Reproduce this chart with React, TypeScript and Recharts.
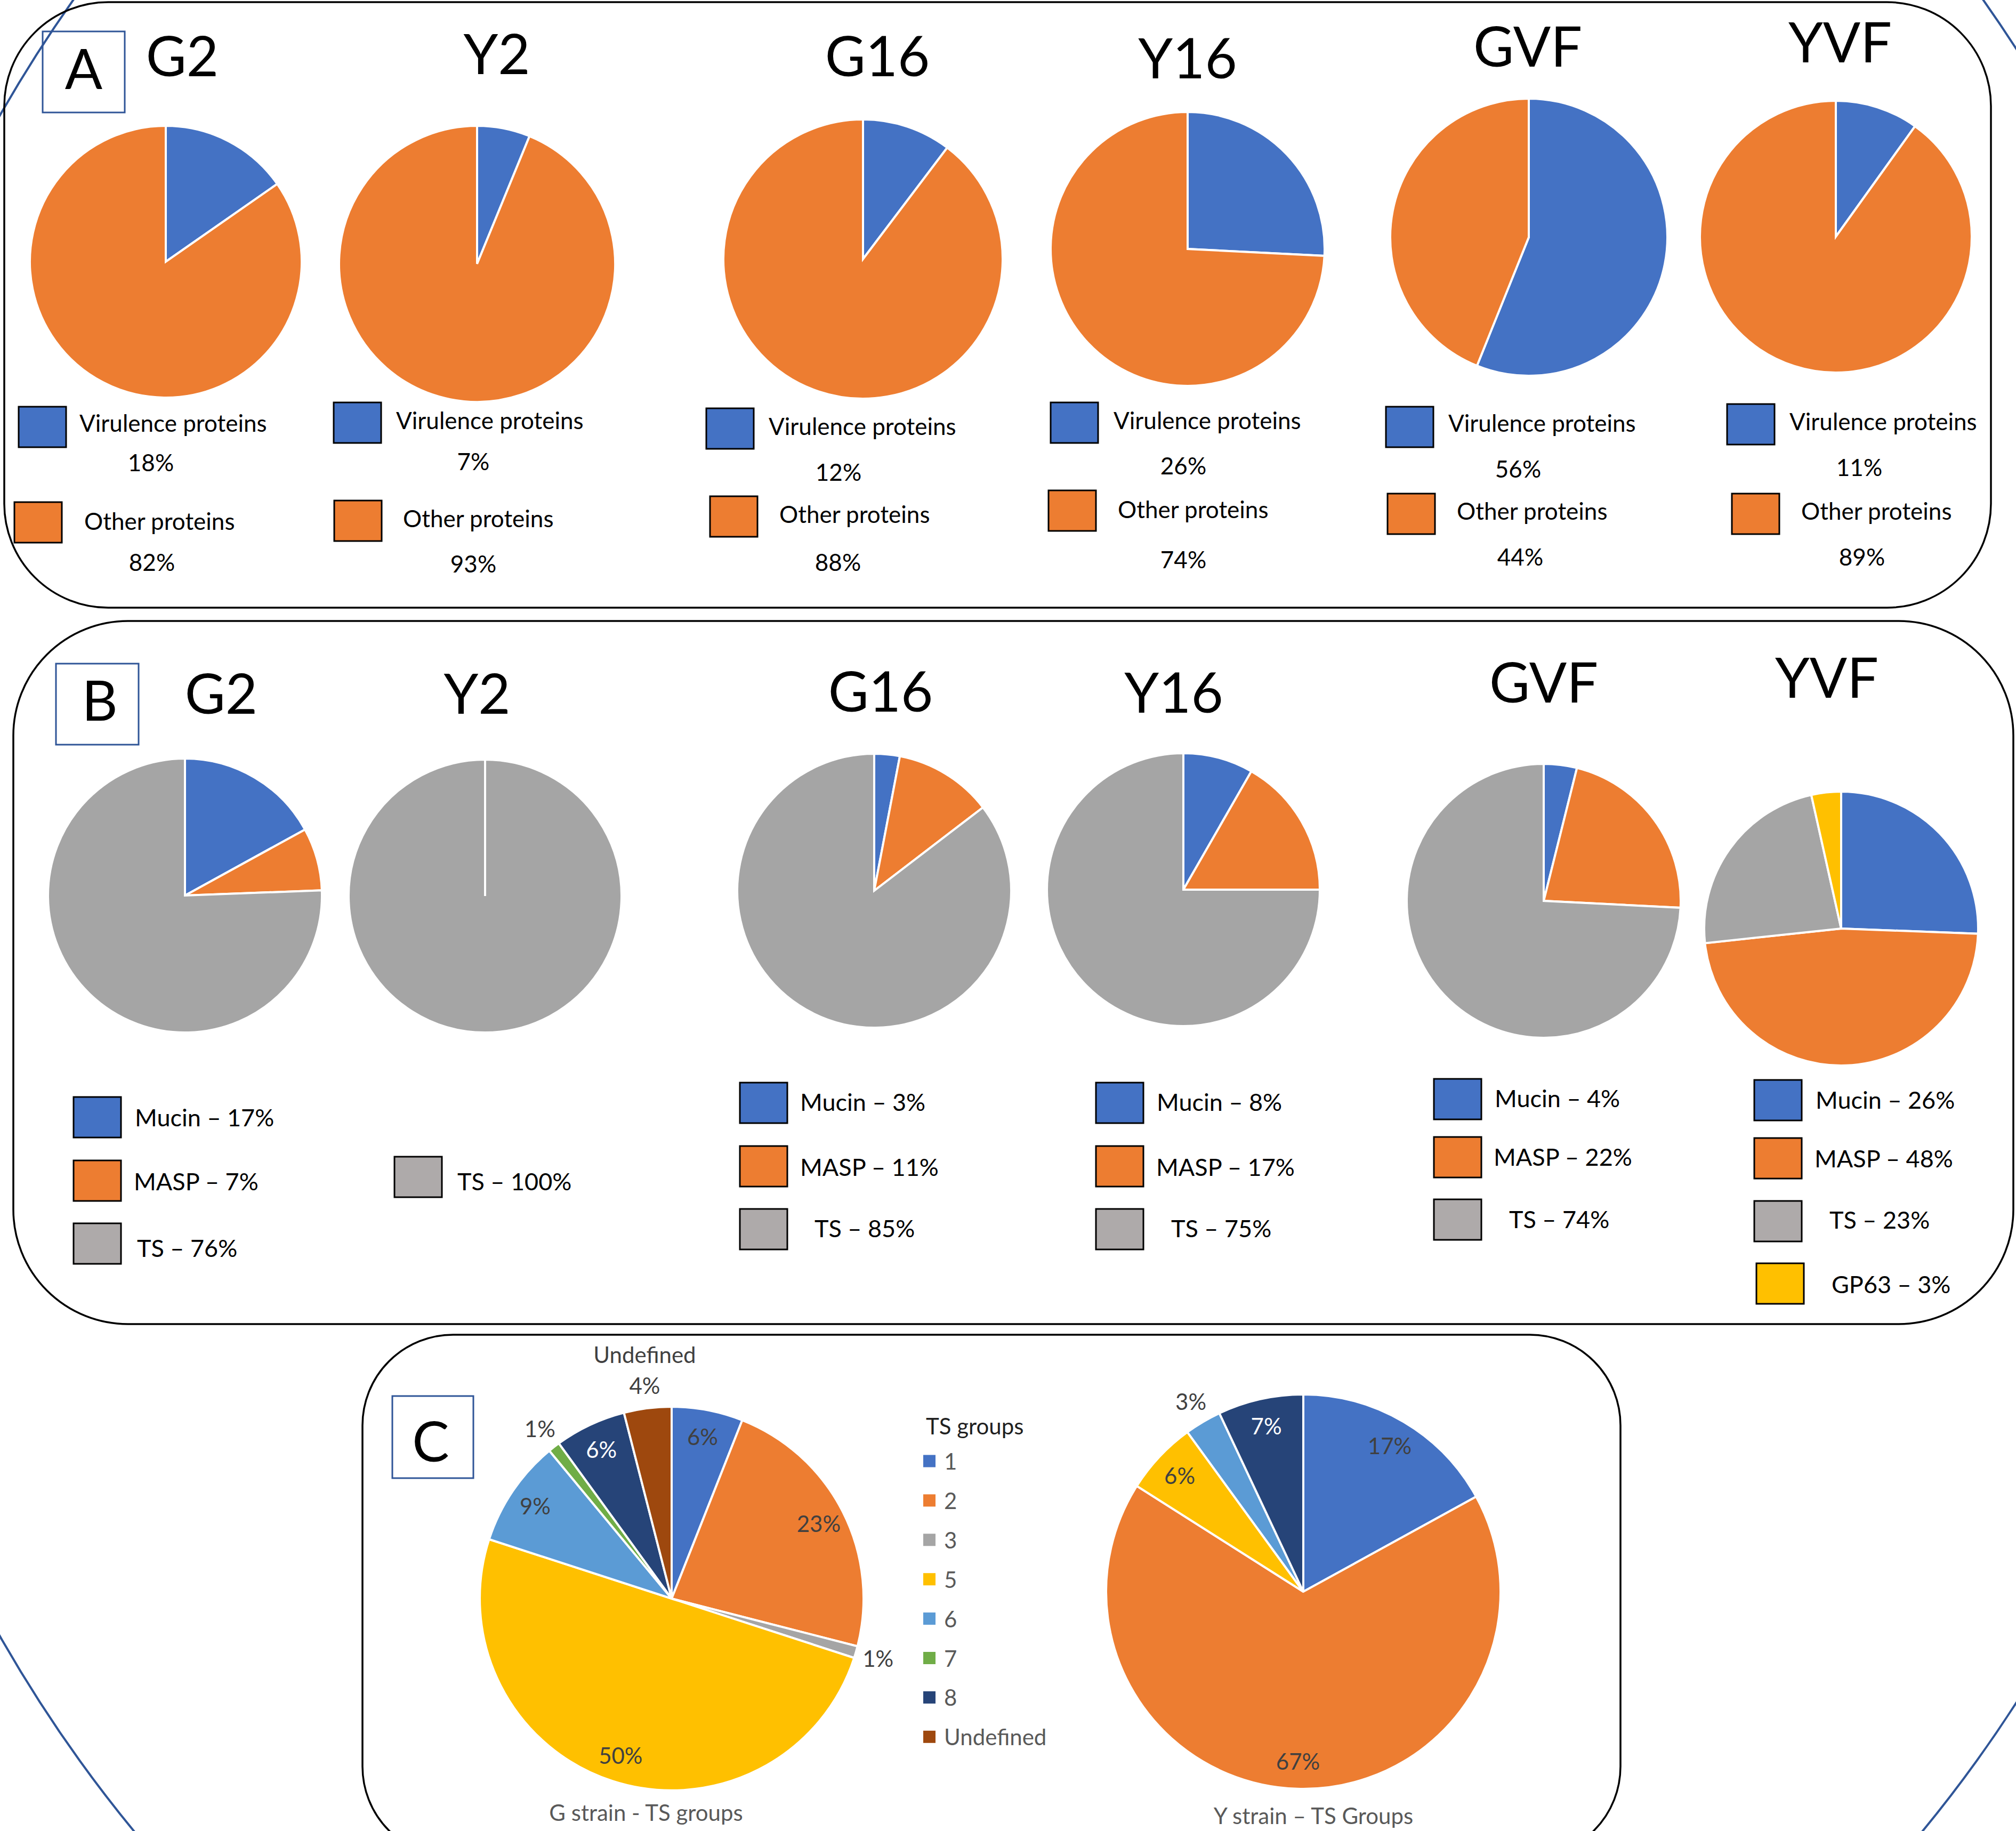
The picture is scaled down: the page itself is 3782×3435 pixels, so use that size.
import React from "react";
import { PieChart, Pie, Cell } from "recharts";

const W = 3782;
const H = 3435;
const FONT = "Lato, 'Open Sans', sans-serif";

const BLUE = "#4472C4";
const ORANGE = "#ED7D31";
const GRAY = "#A5A5A5";
const YELLOW = "#FFC000";
const LIGHT_BLUE = "#5B9BD5";
const GREEN = "#70AD47";
const DARK_BLUE = "#264478";
const BROWN = "#9E480E";
const SWATCH_GRAY = "#AEAAAA";
const FRAME_BLUE = "#2F5597";

// ---- data ----
const samples = ["G2", "Y2", "G16", "Y16", "GVF", "YVF"];

// A: virulence vs other proteins (slice sizes as drawn, legend text as printed)
const virulenceShare = [15.3, 6.2, 10.3, 25.8, 56.1, 9.9];
const otherShare = [84.7, 93.8, 89.7, 74.2, 43.9, 90.1];
const virulenceText = ["18%", "7%", "12%", "26%", "56%", "11%"];
const otherText = ["82%", "93%", "88%", "74%", "44%", "89%"];

// B: virulence protein families
const familyNames = ["Mucin", "MASP", "TS", "GP63"];
const mucinShare = [17, 0, 3, 8.3, 3.9, 25.6];
const maspShare = [7.4, 0, 11.6, 16.7, 21.9, 47.7];
const tsShare = [75.6, 100, 85.4, 75, 74.2, 23.2];
const gp63Share = [0, 0, 0, 0, 0, 3.5];
const mucinText = ["17%", "", "3%", "8%", "4%", "26%"];
const maspText = ["7%", "", "11%", "17%", "22%", "48%"];
const tsText = ["76%", "100%", "85%", "75%", "74%", "23%"];
const gp63Text = ["", "", "", "", "", "3%"];

// C: trans-sialidase groups
const tsGroups = ["1", "2", "3", "5", "6", "7", "8", "Undefined"];
const gStrainTs = [6, 23, 1, 50, 9, 1, 6, 4];
const yStrainTs = [17, 67, 0, 6, 3, 0, 7, 0];

const familyColors = [BLUE, ORANGE, GRAY, YELLOW];
const familySwatch = [BLUE, ORANGE, SWATCH_GRAY, YELLOW];
const tsColors = [BLUE, ORANGE, GRAY, YELLOW, LIGHT_BLUE, GREEN, DARK_BLUE, BROWN];

// ---- layout (page pixels) ----
// title [x, baseline], pie [cx, cy, r], rows [boxX, boxY, textX, textBase, pctX, pctBase]
const aLayout = [
  { title: [342, 143], pie: [311, 491, 255], rows: [[35, 763, 149, 810, 283, 884], [27, 942, 158, 994, 285, 1071]] },
  { title: [932, 139], pie: [895, 495, 259], rows: [[626, 755, 743, 805, 888, 882], [627, 939, 756, 989, 888, 1074]] },
  { title: [1646, 143], pie: [1619, 486, 262], rows: [[1325, 766, 1442, 816, 1573, 902], [1332, 931, 1462, 981, 1572, 1071]] },
  { title: [2228, 147], pie: [2228, 467, 257], rows: [[1971, 755, 2089, 805, 2220, 890], [1967, 920, 2097, 972, 2220, 1066]] },
  { title: [2866, 125], pie: [2868, 445, 260], rows: [[2600, 763, 2717, 810, 2848, 896], [2603, 926, 2733, 975, 2852, 1061]] },
  { title: [3452, 117], pie: [3444, 444, 255], rows: [[3240, 758, 3357, 807, 3488, 893], [3249, 926, 3379, 975, 3493, 1061]] },
];

// rows [boxX, boxY, textX, textBase]
const bLayout = [
  { title: [415, 1339], pie: [347, 1680, 257], rows: [[138, 2058, 253, 2113], [138, 2177, 251, 2233], [138, 2295, 257, 2358]] },
  { title: [895, 1339], pie: [910, 1681, 256], rows: [[740, 2170, 858, 2233]] },
  { title: [1652, 1335], pie: [1640, 1671, 257], rows: [[1388, 2031, 1501, 2084], [1388, 2150, 1501, 2206], [1388, 2268, 1528, 2321]] },
  { title: [2202, 1337], pie: [2220, 1669, 256], rows: [[2056, 2031, 2170, 2084], [2056, 2150, 2169, 2206], [2056, 2268, 2197, 2321]] },
  { title: [2896, 1318], pie: [2896, 1690, 257], rows: [[2690, 2024, 2804, 2077], [2690, 2133, 2802, 2187], [2690, 2250, 2831, 2304]] },
  { title: [3427, 1309], pie: [3454, 1742, 257], rows: [[3291, 2026, 3406, 2080], [3291, 2135, 3404, 2190], [3291, 2253, 3432, 2305], [3295, 2370, 3436, 2426]] },
];

const RAD = Math.PI / 180;

type Slice = { name: string; value: number; color: string };

function SimplePie({ cx, cy, r, data }: { cx: number; cy: number; r: number; data: Slice[] }) {
  const pad = 12;
  const size = 2 * (r + pad);
  return (
    <div style={{ position: "absolute", left: cx - r - pad, top: cy - r - pad }}>
      <PieChart width={size} height={size} margin={{ top: 0, right: 0, bottom: 0, left: 0 }}>
        <Pie
          data={data}
          dataKey="value"
          nameKey="name"
          cx="50%"
          cy="50%"
          outerRadius={r}
          startAngle={90}
          endAngle={-270}
          stroke="#ffffff"
          strokeWidth={4}
          isAnimationActive={false}
        >
          {data.map((d) => (
            <Cell key={d.name} fill={d.color} />
          ))}
        </Pie>
      </PieChart>
    </div>
  );
}

function renderTsLabel(props: any) {
  const { cx, cy, midAngle, outerRadius, value, name } = props;
  const outside = value < 5;
  const rr = outerRadius * (outside ? 1.12 : 0.86);
  const x = cx + rr * Math.cos(-midAngle * RAD);
  const y = cy + rr * Math.sin(-midAngle * RAD);
  const color = name === "8" ? "#ffffff" : "#404040";
  const common = { textAnchor: "middle" as const, dominantBaseline: "central" as const, fontFamily: FONT, fontSize: 42 };
  return (
    <g>
      {name === "Undefined" && (
        <text x={x} y={y - 58} fill="#404040" {...common}>
          Undefined
        </text>
      )}
      <text x={x} y={y} fill={color} {...common}>
        {value}%
      </text>
    </g>
  );
}

function TsPie({ cx, cy, r, values }: { cx: number; cy: number; r: number; values: number[] }) {
  const data = tsGroups
    .map((g, i) => ({ name: g, value: values[i], color: tsColors[i] }))
    .filter((d) => d.value > 0);
  const pad = 200;
  const size = 2 * (r + pad);
  return (
    <div style={{ position: "absolute", left: cx - r - pad, top: cy - r - pad }}>
      <PieChart width={size} height={size} margin={{ top: 0, right: 0, bottom: 0, left: 0 }}>
        <Pie
          data={data}
          dataKey="value"
          nameKey="name"
          cx="50%"
          cy="50%"
          outerRadius={r}
          startAngle={90}
          endAngle={-270}
          stroke="#ffffff"
          strokeWidth={4}
          label={renderTsLabel}
          labelLine={false}
          isAnimationActive={false}
        >
          {data.map((d) => (
            <Cell key={d.name} fill={d.color} />
          ))}
        </Pie>
      </PieChart>
    </div>
  );
}

const BOX_W = 89;
const BOX_H = 76;

function Decor() {
  const titleStyle = { fontFamily: FONT, fontSize: 104, fill: "#000" };
  const legendStyle = { fontFamily: FONT, fill: "#000" };
  const bShares = [mucinShare, maspShare, tsShare, gp63Share];
  const bTexts = [mucinText, maspText, tsText, gp63Text];
  return (
    <svg width={W} height={H} style={{ position: "absolute", left: 0, top: 0 }}>
      <ellipse cx={1929} cy={1643} rx={2300} ry={2620} fill="none" stroke={FRAME_BLUE} strokeWidth={4} />

      {/* panel frames */}
      <rect x={8} y={4} width={3727} height={1136} rx={195} ry={195} fill="none" stroke="#000" strokeWidth={3.5} />
      <rect x={25} y={1165} width={3752} height={1319} rx={215} ry={215} fill="none" stroke="#000" strokeWidth={3.5} />
      <rect x={680} y={2504} width={2360} height={980} rx={170} ry={170} fill="none" stroke="#000" strokeWidth={3.5} />

      {/* panel letters */}
      <rect x={80} y={59} width={154} height={152} fill="none" stroke={FRAME_BLUE} strokeWidth={3} />
      <text x={157} y={167} textAnchor="middle" {...titleStyle}>A</text>
      <rect x={105} y={1245} width={155} height={152} fill="none" stroke={FRAME_BLUE} strokeWidth={3} />
      <text x={187} y={1352} textAnchor="middle" {...titleStyle}>B</text>
      <rect x={736} y={2619} width={152} height={154} fill="none" stroke={FRAME_BLUE} strokeWidth={3} />
      <text x={808} y={2742} textAnchor="middle" {...titleStyle}>C</text>

      {/* panel A titles and legends */}
      {aLayout.map((l, i) => (
        <g key={"a" + i}>
          <text x={l.title[0]} y={l.title[1]} textAnchor="middle" {...titleStyle}>{samples[i]}</text>
          {[
            { label: "Virulence proteins", pct: virulenceText[i], color: BLUE },
            { label: "Other proteins", pct: otherText[i], color: ORANGE },
          ].map((row, j) => {
            const p = l.rows[j];
            return (
              <g key={j}>
                <rect x={p[0]} y={p[1]} width={BOX_W} height={BOX_H} fill={row.color} stroke="#000" strokeWidth={3} />
                <text x={p[2]} y={p[3]} fontSize={44} {...legendStyle}>{row.label}</text>
                <text x={p[4]} y={p[5]} fontSize={44} textAnchor="middle" {...legendStyle}>{row.pct}</text>
              </g>
            );
          })}
        </g>
      ))}

      {/* panel B titles and legends */}
      {bLayout.map((l, i) => {
        const rows = familyNames
          .map((name, k) => ({ name, text: bTexts[k][i], color: familySwatch[k], share: bShares[k][i] }))
          .filter((r) => r.text !== "");
        return (
          <g key={"b" + i}>
            <text x={l.title[0]} y={l.title[1]} textAnchor="middle" {...titleStyle}>{samples[i]}</text>
            {rows.map((row, j) => {
              const p = l.rows[j];
              return (
                <g key={j}>
                  <rect x={p[0]} y={p[1]} width={BOX_W} height={BOX_H} fill={row.color} stroke="#000" strokeWidth={3} />
                  <text x={p[2]} y={p[3]} fontSize={45} {...legendStyle}>{`${row.name} \u2013 ${row.text}`}</text>
                </g>
              );
            })}
          </g>
        );
      })}

      {/* panel C legend and captions */}
      <text x={1737} y={2691} fontFamily={FONT} fontSize={42} fill="#1f1f1f">TS groups</text>
      {tsGroups.map((g, i) => {
        const yc = 2741 + i * 73.9;
        return (
          <g key={"ts" + g}>
            <rect x={1732} y={yc - 11.5} width={23} height={23} fill={tsColors[i]} />
            <text x={1771} y={yc} dominantBaseline="central" fontFamily={FONT} fontSize={42} fill="#595959">{g}</text>
          </g>
        );
      })}
      <text x={1212} y={3416} textAnchor="middle" fontFamily={FONT} fontSize={42} fill="#595959">G strain - TS groups</text>
      <text x={2464} y={3422} textAnchor="middle" fontFamily={FONT} fontSize={42} fill="#595959">Y strain {"\u2013"} TS Groups</text>
    </svg>
  );
}

export default function App() {
  return (
    <div
      style={{
        position: "absolute",
        left: 0,
        top: 0,
        width: W,
        height: H,
        overflow: "hidden",
        background: "#ffffff",
        fontFamily: FONT,
      }}
    >
      <Decor />
      {aLayout.map((l, i) => (
        <SimplePie
          key={"pa" + i}
          cx={l.pie[0]}
          cy={l.pie[1]}
          r={l.pie[2]}
          data={[
            { name: "Virulence proteins", value: virulenceShare[i], color: BLUE },
            { name: "Other proteins", value: otherShare[i], color: ORANGE },
          ]}
        />
      ))}
      {bLayout.map((l, i) => {
        const shares = [mucinShare[i], maspShare[i], tsShare[i], gp63Share[i]];
        const data = familyNames
          .map((name, k) => ({ name, value: shares[k], color: familyColors[k] }))
          .filter((d) => d.value > 0);
        return <SimplePie key={"pb" + i} cx={l.pie[0]} cy={l.pie[1]} r={l.pie[2]} data={data} />;
      })}
      <TsPie cx={1260} cy={2999} r={360} values={gStrainTs} />
      <TsPie cx={2445} cy={2986} r={370} values={yStrainTs} />
    </div>
  );
}
